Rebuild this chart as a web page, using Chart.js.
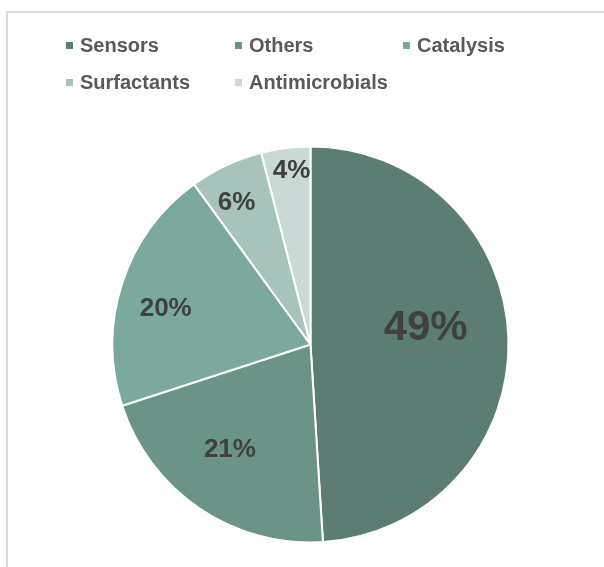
<!DOCTYPE html>
<html>
<head>
<meta charset="utf-8">
<script src="https://cdn.jsdelivr.net/npm/chart.js@4"></script>
<style>
  html, body { margin: 0; padding: 0; background: #ffffff; }
  #wrap { position: relative; width: 604px; height: 567px; overflow: hidden; background: #fff; }
  #frame { position: absolute; left: 6px; top: 11px; width: 800px; height: 800px;
           border-top: 2px solid #d9d9d9; border-left: 2px solid #d9d9d9; box-sizing: border-box; }
  #chart { position: absolute; left: 0; top: 0; }
  .lg { position: absolute; font-family: "Liberation Sans", Arial, sans-serif; font-weight: bold;
        font-size: 20px; color: #595959; line-height: 20px; white-space: nowrap; }
  .mk { position: absolute; width: 7px; height: 7px; }
</style>
</head>
<body>
<div id="wrap">
  <div id="frame"></div>
  <canvas id="chart" width="604" height="567"></canvas>
  <div id="legend"></div>
</div>
<script>
const categories = ["Sensors", "Others", "Catalysis", "Surfactants", "Antimicrobials"];
const shares = [49, 21, 20, 6, 4];
const valueLabels = ["49%", "21%", "20%", "6%", "4%"];
const sliceColors = ["#5B7D73", "#6B9489", "#7CA99D", "#A7C3BB", "#C9D9D5"];

// HTML legend built from the arrays
const legendEl = document.getElementById('legend');
const colX = [66, 235, 403];
const rowY = [45.5, 82.5];
categories.forEach((name, i) => {
  const c = i % 3, r = Math.floor(i / 3);
  const mk = document.createElement('div');
  mk.className = 'mk';
  mk.style.left = colX[c] + 'px';
  mk.style.top = (rowY[r] - 3.5) + 'px';
  mk.style.background = sliceColors[i];
  legendEl.appendChild(mk);
  const t = document.createElement('div');
  t.className = 'lg';
  t.style.left = (colX[c] + 14) + 'px';
  t.style.top = (rowY[r] - 11) + 'px';
  t.textContent = name;
  legendEl.appendChild(t);
});

const sliceLabels = {
  id: 'sliceLabels',
  afterDatasetsDraw(chart, args, opts) {
    const ctx = chart.ctx;
    const meta = chart.getDatasetMeta(0);
    ctx.save();
    ctx.fillStyle = opts.color;
    ctx.textAlign = 'center';
    ctx.textBaseline = 'middle';
    meta.data.forEach((arc, i) => {
      const p = arc.getProps(['x', 'y', 'startAngle', 'endAngle', 'outerRadius'], true);
      const mid = (p.startAngle + p.endAngle) / 2;
      const r = p.outerRadius * opts.radiusFraction[i];
      const x = p.x + Math.cos(mid) * r + opts.nudge[i][0];
      const y = p.y + Math.sin(mid) * r + opts.nudge[i][1];
      ctx.font = 'bold ' + opts.sizes[i] + 'px "Liberation Sans", Arial, sans-serif';
      ctx.fillText(valueLabels[i], x, y);
    });
    ctx.restore();
  }
};

new Chart(document.getElementById('chart'), {
  type: 'pie',
  data: {
    labels: categories,
    datasets: [{
      data: shares,
      backgroundColor: sliceColors,
      borderColor: '#ffffff',
      borderWidth: 2
    }]
  },
  options: {
    responsive: false,
    animation: false,
    radius: 198,
    layout: { padding: { left: 17, right: 0, top: 122, bottom: 0 } },
    plugins: {
      legend: { display: false },
      tooltip: { enabled: false },
      sliceLabels: {
        color: '#404040',
        sizes: [42, 26, 26, 26, 26],
        radiusFraction: [0.587, 0.67, 0.753, 0.806, 0.882],
        nudge: [[-1, -12], [-6, -4], [-3, 10], [-6, 3], [3, 0]]
      }
    }
  },
  plugins: [sliceLabels]
});
</script>
</body>
</html>
